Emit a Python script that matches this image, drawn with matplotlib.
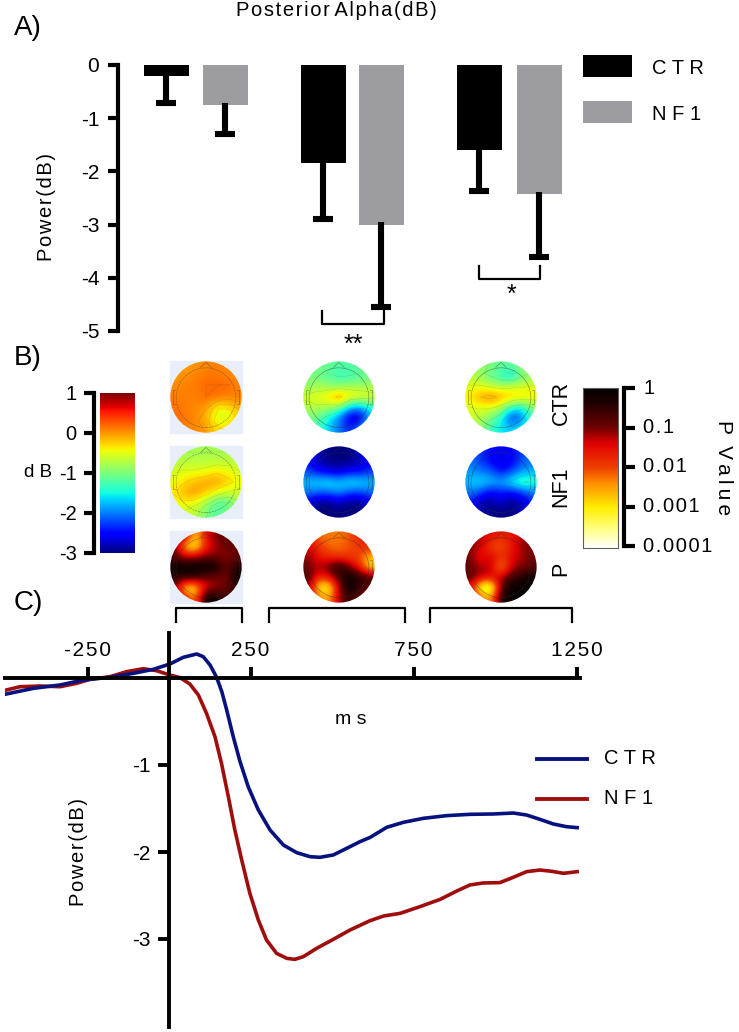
import matplotlib
matplotlib.use("Agg")
import matplotlib.pyplot as plt
import numpy as np
from matplotlib.colors import LinearSegmentedColormap
from matplotlib.patches import Circle

W, H = 739, 1032
plt.rcParams['font.family'] = ['Liberation Sans', 'DejaVu Sans']
plt.rcParams['axes.unicode_minus'] = False

# panel A
groups = ["CTR", "NF1"]
ctr_means = [-0.2, -1.85, -1.6]
ctr_errs = [-0.71, -2.9, -2.37]
nf1_means = [-0.76, -3.0, -2.42]
nf1_errs = [-1.3, -4.55, -3.6]
bar_yticks = [0, -1, -2, -3, -4, -5]

# panel B, coarse scalp grids (dB for the first two rows, log10 p for the last)
topo_ctr = [
    [[-.1, -.05, 0, .05, .1, .05, 0], [0, .05, .1, .15, .15, .1, .05], [.05, .1, .1, .2, .2, .2, .1],
     [.1, .1, .1, .2, .15, .1, .1], [.15, .1, .05, 0, -.4, -.4, -.1], [.2, .15, .05, -.1, -.55, -.6, -.3], [.15, .1, .05, 0, -.3, -.3, -.1]],
    [[-1.0, -1.05, -1.1, -1.2, -1.2, -1.1, -1.0], [-1.0, -1.05, -1.2, -1.35, -1.3, -1.2, -1.05], [-.9, -.8, -.85, -.9, -.8, -.8, -.8],
     [-.55, -.45, -.3, .1, -.3, -.4, -.5], [-.75, -.7, -.8, -.9, -1.7, -1.9, -1.4], [-1.0, -1.1, -1.5, -2.0, -2.7, -2.8, -1.8], [-1.1, -1.3, -1.7, -2, -2.4, -2, -1.5]],
    [[-.7, -.85, -1, -1.1, -1.2, -.85, -.75], [-.7, -.85, -1.1, -1.4, -1.6, -1.1, -.9], [-.5, -.5, -.6, -.7, -.6, -.55, -.5],
     [-.35, -.05, .1, -.05, -.2, -.25, -.35], [-.55, -.5, -.5, -.7, -1.3, -1.5, -.9], [-.6, -.7, -1, -1.4, -2.4, -2.1, -1.3], [-.7, -.9, -1.3, -1.6, -1.7, -1.5, -1]],
]
topo_nf1 = [
    [[-.8, -.8, -.8, -.8, -.8, -.8, -.8], [-.75, -.7, -.7, -.7, -.7, -.7, -.7], [-.55, -.5, -.5, -.45, -.35, -.4, -.55],
     [-.45, -.3, -.15, -.05, 0, -.2, -.4], [-.35, -.05, 0, -.2, -.45, -.6, -.6], [-.45, -.4, -.5, -.8, -1.2, -1.2, -.8], [-.6, -.6, -.7, -1, -1.2, -1, -.8]],
    [[-2.6, -2.8, -3, -3, -3, -2.8, -2.5], [-2.5, -2.8, -3, -3, -3, -2.8, -2.5], [-2.2, -2.5, -2.6, -2.7, -2.5, -2.5, -2.3],
     [-1.7, -1.6, -1.5, -1.7, -1.5, -1.6, -1.7], [-2, -2.1, -2.1, -1.9, -2.2, -2.2, -2.1], [-2.6, -3, -3, -2.8, -3, -3, -2.6], [-2.7, -3, -3, -3, -3, -3, -2.7]],
    [[-2.1, -2.3, -2.5, -2.6, -2.5, -2.3, -2.0], [-2.0, -2.3, -2.5, -2.7, -2.6, -2.2, -2.0], [-1.9, -2, -2.1, -2.5, -2.2, -1.9, -1.8],
     [-1.7, -1.6, -1.7, -1.8, -1.5, -1.15, -1.3], [-2.0, -2.2, -2.6, -2.4, -2.5, -2.3, -2.0], [-2.4, -2.9, -2.9, -2.7, -3, -2.8, -2.4], [-2.5, -2.8, -3, -3, -3, -2.8, -2.5]],
]
topo_p = [
    [[-1, -1.2, -2.9, -1.5, -1, -.9, -.8], [-.8, -2.9, -3.2, -1.7, -1.2, -.9, -.9], [-.9, -1.3, -1.2, -1, -1, -1.2, -.9],
     [-.05, -.05, -.02, -.02, -.1, -1, -.3], [-.5, -.5, -.5, -1, -1, -1.1, -.1], [-.9, -3.2, -3, -1.4, -1.2, -.9, -.5], [-.9, -1.6, -2.4, -.1, -.2, -.7, -.8]],
    [[-1.7, -2.2, -2.3, -2.3, -2.1, -1.7, -1.4], [-1.3, -1.9, -2.2, -2.2, -2.1, -1.9, -1.7], [-1.1, -1.6, -1.8, -2, -1.9, -2, -2.7],
     [-1, -1.2, -.9, -.2, -1, -1.7, -3], [-.6, -1.8, -1.5, -.8, -.03, -.4, -.6], [-1, -3.1, -3.4, -1.2, -.03, -.7, -.9], [-.9, -2.2, -2.6, -1.2, -.5, -.9, -1]],
    [[-1, -1.2, -1.5, -1.7, -1.6, -1.2, -1], [-1, -1.3, -2, -2.2, -1.6, -1.2, -1], [-1, -1.7, -1.3, -1.8, -1.5, -1.2, -1],
     [-.9, -1.2, -1.2, -2.7, -1.3, -1.1, -.9], [-.8, -1.2, -1.5, -1.2, -.7, -.4, -.05], [-1.4, -3.6, -3.9, -.9, -.05, -.1, -.05], [-.9, -2, -2.6, -.5, -.05, -.1, -.3]],
]
row_labels = ["CTR", "NF1", "P"]
db_ticks = [1, 0, -1, -2, -3]
p_ticks = [0, -1, -2, -3, -4]
p_ticklabels = ["1", "0.1", "0.01", "0.001", "0.0001"]

# panel C
t_ctr = [-499, -416, -334, -263, -181, -109, -48, 3, 44, 85, 105, 126, 146, 162, 177, 197, 218, 243, 274, 310, 351, 392,
         433, 463, 504, 545, 586, 617, 668, 719, 780, 852, 923, 995, 1056, 1097, 1138, 1179, 1219, 1252]
v_ctr = [-.184, -.119, -.08, -.023, .008, .054, .1, .161, .238, .276, .245, .149, .008, -.157, -.368, -.674, -.962, -1.25,
         -1.517, -1.747, -1.92, -2.008, -2.054, -2.061, -2.034, -1.958, -1.881, -1.832, -1.716, -1.659, -1.613, -1.582,
         -1.567, -1.563, -1.552, -1.575, -1.625, -1.678, -1.709, -1.72]
t_nf1 = [-499, -457, -396, -334, -283, -242, -181, -130, -79, -38, 3, 34, 64, 90, 115, 141, 161, 182, 202, 223, 248, 274, 299,
         330, 361, 386, 412, 453, 504, 555, 617, 658, 709, 770, 832, 883, 923, 964, 1015, 1056, 1097, 1138, 1174, 1210, 1252]
v_nf1 = [-.138, -.1, -.092, -.1, -.061, -.015, .015, .073, .107, .084, .034, .004, -.069, -.195, -.406, -.674, -.981, -1.364,
         -1.747, -2.092, -2.475, -2.782, -3.011, -3.165, -3.222, -3.234, -3.203, -3.107, -3.004, -2.897, -2.789, -2.736,
         -2.705, -2.628, -2.544, -2.448, -2.379, -2.356, -2.352, -2.291, -2.226, -2.207, -2.222, -2.245, -2.226]
time_ticks = [-250, 250, 750, 1250]
power_ticks = [-1, -2, -3]

BLACK = "#000000"
GRAY = "#9d9da1"
NAVY = "#07127f"
DARKRED = "#a00d0d"

fig = plt.figure(figsize=(W / 100, H / 100), dpi=100, facecolor="white")


def axpx(x0, y0, x1, y1):
    # pixel box, y counted from the top of the picture
    return fig.add_axes([x0 / W, 1 - y1 / H, (x1 - x0) / W, (y1 - y0) / H])


def spaced(s):
    # the labels are letterspaced in the original
    return "\u200a".join(s)


def ftext(x, y, s, **kw):
    fig.text(x / W, 1 - y / H, s, **kw)


# ---- A ----
ax = axpx(118, 65, 600, 331)
ax.set_xlim(118, 600)
ax.set_ylim(-5, 0)
ax.patch.set_alpha(0)
ctr_x = [166, 323, 479]
nf1_x = [225, 381, 539]
ax.bar(ctr_x, ctr_means, 45, color=BLACK)
ax.bar(nf1_x, nf1_means, 45, color=GRAY)
for x, m, e in zip(ctr_x + nf1_x, ctr_means + nf1_means, ctr_errs + nf1_errs):
    ax.plot([x, x], [m + 0.04, e], color=BLACK, lw=4.4, solid_capstyle="butt")
    ax.plot([x - 10, x + 10], [e, e], color=BLACK, lw=4.4, solid_capstyle="butt")
for sp in ["top", "right", "bottom"]:
    ax.spines[sp].set_visible(False)
ax.spines["left"].set_linewidth(3)
ax.set_xticks([])
ax.set_yticks(bar_yticks)
ax.tick_params(axis="y", length=7.5, width=3, labelsize=15, pad=6)
ftext(47, 207, spaced("Power(dB)"), rotation=90, ha="center", va="center", fontsize=14.5)
# significance brackets
ax.plot([322, 322, 384, 384], [-4.62, -4.87, -4.87, -4.62], color=BLACK, lw=1.6, clip_on=False)
ax.plot([479, 479, 540, 540], [-3.77, -4.02, -4.02, -3.77], color=BLACK, lw=1.6, clip_on=False)
ax.text(353, -5.04, "**", ha="center", va="top", fontsize=18, clip_on=False)
ax.text(511, -4.1, "*", ha="center", va="top", fontsize=18, clip_on=False)
ftext(336, 10, spaced("Posterior") + " " + spaced("Alpha(dB)"), ha="center", va="center", fontsize=14.5)
ftext(14, 28, "A)", ha="left", va="center", fontsize=20)

# legend of A
lg = axpx(583, 55, 632, 123)
lg.axis("off")
lg.set_xlim(0, 1)
lg.set_ylim(0, 68)
lg.barh([57, 11], [1, 1], 22, color=[BLACK, GRAY])
ftext(652, 69, " ".join(groups[0]), ha="left", va="center", fontsize=14.5)
ftext(652, 114, " ".join(groups[1]), ha="left", va="center", fontsize=14.5)

# ---- B ----
ftext(14, 358, "B)", ha="left", va="center", fontsize=20)
hot_p = LinearSegmentedColormap.from_list(
    "hot_p", [(0, "#ffffff"), (.12, "#ffff80"), (.25, "#ffee00"), (.4, "#ff9000"), (.5, "#f04000"),
              (.65, "#e00000"), (.75, "#700000"), (.9, "#200000"), (1, "#000000")])
centers_x = [206, 339, 501]
centers_y = [397, 482, 567]
R = 36
xs = np.linspace(-1, 1, 7)
for c, (cx, ctr, nf1, pv) in enumerate(zip(centers_x, topo_ctr, topo_nf1, topo_p)):
    for r, (cy, grid) in enumerate(zip(centers_y, [ctr, nf1, pv])):
        t = axpx(cx - R, cy - R, cx + R, cy + R)
        t.axis("off")
        if c == 0:
            t.add_patch(plt.Rectangle((0, 0), 1, 1, transform=t.transAxes, color="#e8effa", zorder=0, clip_on=False))
        clip = Circle((0, 0), 0.99, transform=t.transData)
        if r < 2:
            im = t.imshow(grid, cmap="jet", vmin=-3, vmax=1, interpolation="bicubic", extent=(-1, 1, -1, 1))
            if not (c == 1 and r == 1):
                cs = t.contour(xs, xs[::-1], grid, levels=4, colors="#202020", linewidths=0.3, linestyles=":", alpha=.5)
                cs.set_clip_path(clip)
        else:
            im = t.imshow(grid, cmap=hot_p, vmin=-4, vmax=0, interpolation="bicubic", extent=(-1, 1, -1, 1))
        im.set_clip_path(clip)
        # scalp outline
        t.add_patch(Circle((0, -0.02), 0.83, fill=False, ec="#303030", lw=0.4, ls="-" if c else "--", alpha=.6))
        t.plot([-.15, 0, .15], [.82, .96, .82], color="#303030", lw=0.4, alpha=.6)
        t.plot([-.85, -.92, -.92, -.85], [.2, .2, -.2, -.2], color="#303030", lw=0.4, alpha=.6)
        t.plot([.85, .92, .92, .85], [.2, .2, -.2, -.2], color="#303030", lw=0.4, alpha=.6)
        t.set_xlim(-1, 1)
        t.set_ylim(-1, 1)

for lab, yy in zip(row_labels, [403, 487, 569]):
    ftext(561, yy, lab, rotation=90, ha="center", va="center", fontsize=15.5)

# dB colourbar
cb = axpx(100, 393, 135, 553)
cb.imshow(np.linspace(1, -3, 256)[:, None], cmap="jet", vmin=-3, vmax=1, aspect="auto", extent=(0, 1, -3, 1))
cb.set_xticks([])
cb.set_yticks([])
for sp in cb.spines.values():
    sp.set_visible(False)
cba = axpx(94, 393, 95, 553)
cba.set_ylim(-3, 1)
cba.set_xticks([])
cba.set_yticks(db_ticks)
for sp in ["top", "right", "bottom"]:
    cba.spines[sp].set_visible(False)
cba.spines["left"].set_linewidth(3)
cba.tick_params(axis="y", length=7.5, width=3, labelsize=14.5, pad=5)
ftext(38, 473, "d B", ha="center", va="center", fontsize=13.5)

# p colourbar
pb = axpx(583, 388, 618, 548)
pb.imshow(np.linspace(0, -4, 256)[:, None], cmap=hot_p, vmin=-4, vmax=0, aspect="auto", extent=(0, 1, -4, 0))
pb.set_xticks([])
pb.set_yticks([])
for sp in pb.spines.values():
    sp.set_color("#606060")
    sp.set_linewidth(0.8)
pba = axpx(623, 388, 624, 546)
pba.set_ylim(-4, 0)
pba.set_xticks([])
pba.set_yticks(p_ticks)
pba.set_yticklabels([])
for sp in ["top", "left", "bottom"]:
    pba.spines[sp].set_visible(False)
pba.spines["right"].set_linewidth(3)
pba.yaxis.tick_right()
pba.tick_params(axis="y", length=8, width=3)
for v, lab in zip(p_ticks, p_ticklabels):
    pba.annotate(spaced(lab), (1, v), xycoords=("axes fraction", "data"), xytext=(14, 0),
                 textcoords="offset points", ha="left", va="center", fontsize=14.5)
ftext(723, 468, "P  " + "\u2009".join("Value"), rotation=270, ha="center", va="center", fontsize=15)

# time window brackets
for x0, x1 in [(176, 242), (269, 405), (430, 572)]:
    fig.add_artist(plt.Line2D([x0 / W, x0 / W, x1 / W, x1 / W], [1 - 622 / H, 1 - 608 / H, 1 - 608 / H, 1 - 622 / H],
                              color=BLACK, lw=1.6))

# ---- C ----
ftext(14, 603, "C)", ha="left", va="center", fontsize=20)
xmm = lambda px: (px - 169) / 0.326
cx_ = axpx(5, 633, 580, 1027)
cx_.set_xlim(xmm(5), xmm(580))
cx_.set_ylim((678 - 1027) / 87, (678 - 633) / 87)
cx_.patch.set_alpha(0)
for sp in ["top", "right"]:
    cx_.spines[sp].set_visible(False)
cx_.spines["left"].set_position(("data", 0))
cx_.spines["bottom"].set_position(("data", 0))
cx_.spines["left"].set_linewidth(2.8)
cx_.spines["bottom"].set_linewidth(2.8)
cx_.plot(t_nf1, v_nf1, color=DARKRED, lw=2.6, solid_joinstyle="round", label="NF1")
cx_.plot(t_ctr, v_ctr, color=NAVY, lw=2.6, solid_joinstyle="round", label="CTR")
cx_.set_xticks(time_ticks)
cx_.set_yticks(power_ticks)
cx_.tick_params(axis="x", direction="out", length=0, labeltop=False, labelbottom=False)
cx_.tick_params(axis="y", length=8, width=2.8, labelsize=15, pad=5)
for t in time_ticks:
    cx_.plot([t, t], [0, 11 / 87], color=BLACK, lw=2.8, solid_capstyle="butt")
    cx_.text(t, 18 / 87, spaced(str(t)), ha="center", va="bottom", fontsize=15)
ftext(351, 720, "m s", ha="center", va="center", fontsize=14)
ftext(78, 852, spaced("Power(dB)"), rotation=90, ha="center", va="center", fontsize=14.5)

# legend of C
for yy, col, lab in [(759, NAVY, "CTR"), (799, DARKRED, "NF1")]:
    fig.add_artist(plt.Line2D([537 / W, 587 / W], [1 - yy / H, 1 - yy / H], color=col, lw=2.8))
    ftext(604, yy, " ".join(lab), ha="left", va="center", fontsize=14.5)

fig.savefig("out.png", dpi=100)
